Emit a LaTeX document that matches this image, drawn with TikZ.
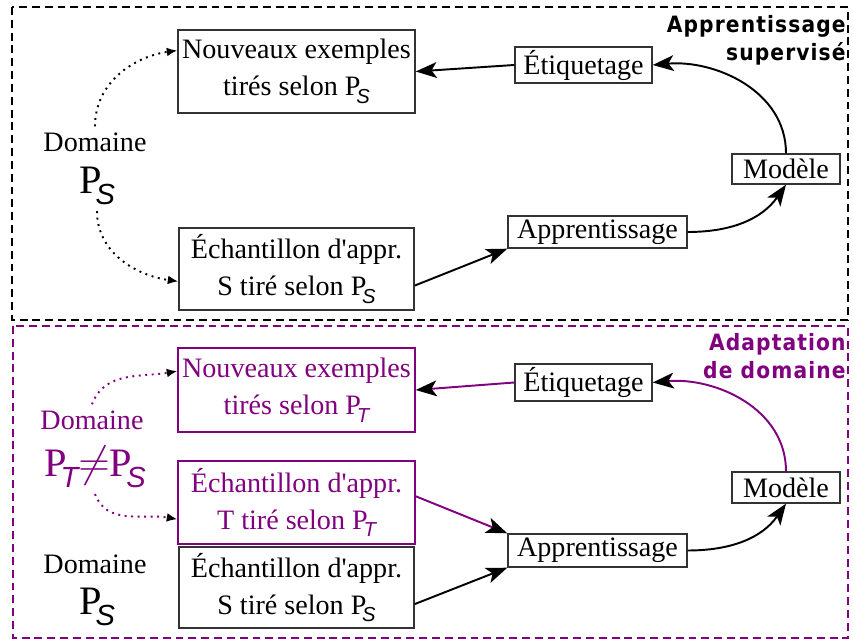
\documentclass[tikz,border=0pt]{standalone}
\usepackage{fontspec}
\usepackage{graphicx}
\usepackage{amsmath}
\usetikzlibrary{arrows.meta}
\setmainfont{Liberation Serif}
\newfontfamily\subsf{Liberation Sans}
\newfontfamily\titlefont{DejaVu Sans Condensed}[LetterSpace=5]
\definecolor{adapt}{RGB}{128,0,128}
\newcommand{\distr}[1]{P\kern-0.15em\raisebox{-0.6ex}{\scalebox{0.72}{\subsf\itshape #1}}}

\begin{document}
\begin{tikzpicture}[x=0.02cm,y=-0.02cm,font=\fontsize{16}{21}\selectfont,
  box/.style={draw=black!80,line width=0.8pt,align=center,inner sep=0pt},
  big/.style={font=\fontsize{23}{28}\selectfont},
  flow/.style={line width=1.1pt,-{Stealth[length=12pt,width=9pt,inset=3pt,color=black]}},
  tirage/.style={line width=1.1pt,dash pattern=on 1.1pt off 2.6pt,-{Latex[length=6pt,width=5pt,color=black]}},
  cadre/.style={line width=1.4pt,dash pattern=on 4.5pt off 2.8pt},
  titre/.style={font=\titlefont\bfseries\fontsize{12.8}{15.9}\selectfont,align=right,anchor=north east,inner sep=0pt}]

\useasboundingbox (0,0) rectangle (853,641);

\begin{scope}

%frame
\draw[cadre] (12,7) rectangle (848,320);
\node[titre] at (846,15) (titS) {Apprentissage\\supervisé};

%domain
\node at (95,142) (domS) {Domaine};
\node[big] at (97,186) (PS) {\distr{S}};

%boxes
\node[box,minimum width=4.74cm,minimum height=1.66cm] at (296.5,71.5) (nouvS) {Nouveaux exemples\\tirés selon \distr{S}};
\node[box,minimum width=4.7cm,minimum height=1.64cm] at (296.5,269) (echS) {Échantillon d\textquotesingle appr.\\S tiré selon \distr{S}};
\node[box,minimum width=2.74cm,minimum height=0.72cm] at (583.5,65) (etiqS) {Étiquetage};
\node[box,minimum width=3.58cm,minimum height=0.64cm] at (597.5,232) (apprS) {Apprentissage};
\node[box,minimum width=2.16cm,minimum height=0.6cm] at (786,169) (modS) {Modèle};

%arrows
\draw[tirage] (domS.north) to[out=90,in=188] (nouvS.170);
\draw[tirage] (PS.south) to[out=-90,in=172] (echS.186);
\draw[flow] (echS.-8) -- (apprS.south west);
\draw[flow] (apprS.east) to[out=0,in=-125] (modS.south);
\draw[flow] (modS.north) to[out=90,in=5] (etiqS.east);
\draw[flow] (etiqS.west) -- (nouvS.east);

\end{scope}


\begin{scope}

%frame
\draw[cadre,adapt] (13,326) rectangle (848,638);
\node[titre,adapt] at (846,333) (titT) {Adaptation\\de domaine};

%domains
\node[adapt] at (92,420) (domT) {Domaine};
\node[big,adapt] at (95,467) (neqT) {\distr{T}$\neq$\distr{S}};
\node at (95,564) (domS2) {Domaine};
\node[big] at (97,607) (PS2) {\distr{S}};

%boxes
\node[box,draw=adapt,text=adapt,minimum width=4.74cm,minimum height=1.68cm] at (296.5,390) (nouvT) {Nouveaux exemples\\tirés selon \distr{T}};
\node[box,draw=adapt,text=adapt,minimum width=4.74cm,minimum height=1.66cm] at (296.5,502.5) (echT) {Échantillon d\textquotesingle appr.\\T tiré selon \distr{T}};
\node[box,minimum width=4.7cm,minimum height=1.62cm] at (296.5,587.5) (echS2) {Échantillon d\textquotesingle appr.\\S tiré selon \distr{S}};
\node[box,minimum width=2.74cm,minimum height=0.74cm] at (583.5,382.5) (etiqT) {Étiquetage};
\node[box,minimum width=3.58cm,minimum height=0.66cm] at (597.5,550.5) (apprT) {Apprentissage};
\node[box,minimum width=2.16cm,minimum height=0.62cm] at (786,487.5) (modT) {Modèle};

%arrows
\draw[tirage,adapt] (domT.north) to[out=70,in=190] (nouvT.171);
\draw[tirage,adapt] (neqT.south) to[out=-70,in=170] (echT.188);
\draw[flow,adapt] (echT.3) -- (apprT.north west);
\draw[flow] (echS2.-8) -- (apprT.south west);
\draw[flow] (apprT.east) to[out=0,in=-125] (modT.south);
\draw[flow,adapt] (modT.north) to[out=90,in=5] (etiqT.east);
\draw[flow,adapt] (etiqT.west) -- (nouvT.east);

\end{scope}

\end{tikzpicture}
\end{document}
